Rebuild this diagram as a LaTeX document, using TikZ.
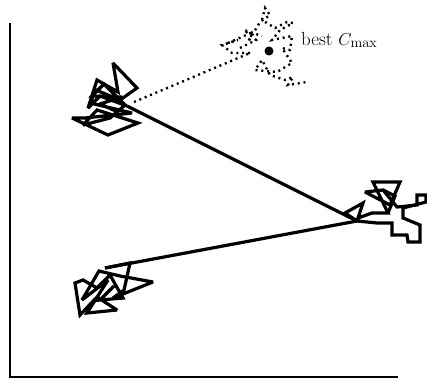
\documentclass[tikz,border=0pt]{standalone}
\begin{document}
\begin{tikzpicture}[x=1pt,y=-1pt,
  walk/.style={line width=3.2pt,line join=miter,miter limit=3},
  dotwalk/.style={line width=2.4pt,dash pattern=on 2pt off 3.8pt},
  axis/.style={line width=2pt}]
\useasboundingbox (0,0) rectangle (427,381);
% axes
\coordinate (ytop) at (10,23);
\coordinate (orig) at (10,377);
\coordinate (xend) at (398,377);
\draw[axis] (ytop) -- (orig) -- (xend);
% cluster anchors
\coordinate (c1) at (127,106);
\coordinate (c2) at (357,221);
\coordinate (c3) at (105,268);
\coordinate (d1) at (134,102);
\coordinate (d2) at (250,53);
% cluster 1
\draw[walk] (c1) -- (100,96) -- (88,108) -- (97,80) -- (118,92) -- (113,63) -- (137,88)
  -- (120,100) -- (96,90) -- (90,103) -- (132,113) -- (85,118) -- (72,118) -- (108,135)
  -- (138,123) -- (97,110) -- (83,125) -- (110,118) -- (125,105)
  -- (104,84) -- (92,96) -- (122,97) -- (100,104) -- (118,112);
% cluster 2
\draw[walk] (c2) -- (345,213) -- (363,203) -- (358,218) -- (372,213) -- (388,213)
  -- (373,182) -- (400,182) -- (390,205) -- (365,192) -- (383,190) -- (397,207)
  -- (417,205) -- (417,195) -- (426,195) -- (426,202) -- (403,208) -- (403,218)
  -- (420,225) -- (420,242) -- (408,242) -- (407,235) -- (392,235) -- (392,223)
  -- (377,223) -- (c2);
\draw[walk] (383,190) -- (395,196) -- (388,213);
% cluster 3
\draw[walk] (c3) -- (130,263) -- (124,290) -- (113,298) -- (153,282) -- (120,276)
  -- (99,271) -- (82,300) -- (108,280) -- (87,313) -- (117,310) -- (97,297)
  -- (80,315) -- (75,283) -- (83,280) -- (97,288) -- (110,275) -- (123,298)
  -- (100,300) -- (114,286);
% connectors
\draw[walk] (c1) -- (c2);
\draw[walk] (c2) -- (c3);
% dotted path to best
\draw[dotwalk] (d1) -- (d2);
\draw[dotwalk] (d2) -- (232,53) -- (222,45) -- (238,40) -- (228,43) -- (253,32)
  -- (248,42) -- (260,22) -- (270,15) -- (265,8) -- (262,20) -- (275,28)
  -- (287,22) -- (293,23) -- (280,30) -- (272,40) -- (292,36) -- (290,50)
  -- (282,48) -- (292,63) -- (277,72) -- (255,70) -- (262,60) -- (270,75)
  -- (285,80) -- (293,77) -- (288,85) -- (307,82);
\draw[dotwalk] (240,48) -- (256,40) -- (244,30) -- (262,36);
\node[circle,fill=black,inner sep=0pt,minimum size=9pt] (best) at (269,51) {};
\node[anchor=base west,inner sep=0pt,font=\fontsize{19}{23}\selectfont] (lbl) at (301,45) {best $C_{\max}$};
\end{tikzpicture}
\end{document}
